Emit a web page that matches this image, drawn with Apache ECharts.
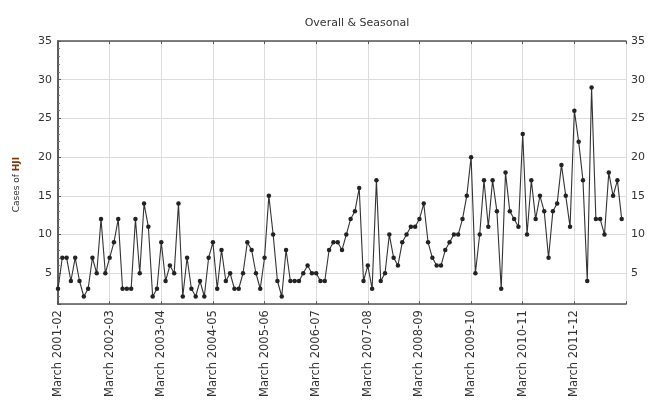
<!DOCTYPE html>
<html>
<head>
<meta charset="utf-8">
<script src="https://cdn.jsdelivr.net/npm/echarts@6/dist/echarts.min.js"></script>
<style>html,body{margin:0;padding:0;background:#fff}#c{width:651px;height:400px}</style>
</head>
<body>
<div id="c"></div>
<script>
// Monthly cases, March 2001 .. February 2012
const cases = [
  3,7,7,4,7,4,2,3,7,5,12,5,
  7,9,12,3,3,3,12,5,14,11,2,3,
  9,4,6,5,14,2,7,3,2,4,2,7,
  9,3,8,4,5,3,3,5,9,8,5,3,
  7,15,10,4,2,8,4,4,4,5,6,5,
  5,4,4,8,9,9,8,10,12,13,16,4,
  6,3,17,4,5,10,7,6,9,10,11,11,
  12,14,9,7,6,6,8,9,10,10,12,15,
  20,5,10,17,11,17,13,3,18,13,12,11,
  23,10,17,12,15,13,7,13,14,19,15,11,
  26,22,17,4,29,12,12,10,18,15,17,12
];
const yearLabels = ['March 2001-02','March 2002-03','March 2003-04','March 2004-05','March 2005-06','March 2006-07','March 2007-08','March 2008-09','March 2009-10','March 2010-11','March 2011-12'];
const monthIndex = cases.map((v, i) => i);

const fontFam = '"DejaVu Sans", Verdana, sans-serif';
const chart = echarts.init(document.getElementById('c'), null, {renderer: 'canvas'});
const frame = {show: true, lineStyle: {color: '#555', width: 1.5}};
const grid = {show: true, lineStyle: {color: '#dcdcdc', width: 1}};
chart.setOption({
  animation: false,
  backgroundColor: '#fff',
  title: {text: 'Overall & Seasonal', left: 352, top: 13, textAlign: 'center',
    textStyle: {fontSize: 11, fontWeight: 'normal', color: '#333', fontFamily: fontFam}},
  grid: {left: 58, right: 25, top: 41, bottom: 94},
  xAxis: [{
    type: 'value', min: 0, max: 132, interval: 12, position: 'bottom',
    axisLine: frame, axisTick: {show: true, inside: true, length: 3, lineStyle: {color: '#555'}},
    splitLine: grid,
    axisLabel: {rotate: 90, fontSize: 11.5, color: '#333', fontFamily: fontFam, margin: 6,
      formatter: v => yearLabels[v / 12] || ''}
  }, {
    type: 'value', min: 0, max: 132, interval: 12, position: 'top',
    axisLine: frame, axisTick: {show: true, inside: true, length: 3, lineStyle: {color: '#555'}},
    axisLabel: {show: false}, splitLine: {show: false}
  }],
  yAxis: [{
    type: 'value', min: 1, max: 35, splitNumber: 7, position: 'left',
    name: 'Cases of {b|HJI}', nameLocation: 'middle', nameGap: 37,
    nameTextStyle: {fontSize: 9, color: '#333', fontFamily: fontFam, padding: [0, 24, 0, 0],
      rich: {b: {fontSize: 9, fontWeight: 'bold', color: '#7a3a10', fontFamily: fontFam}}},
    axisLine: frame, axisTick: {show: true, inside: true, length: 3, lineStyle: {color: '#555'}},
    minorTick: {show: true, splitNumber: 5, length: 2, lineStyle: {color: '#777'}},
    splitLine: grid,
    axisLabel: {fontSize: 11, color: '#333', fontFamily: fontFam, margin: 6,
      formatter: v => (v % 5 === 0 ? String(v) : '')}
  }, {
    type: 'value', min: 1, max: 35, splitNumber: 7, position: 'right',
    axisLine: frame, axisTick: {show: true, inside: false, length: 3, lineStyle: {color: '#555'}},
    minorTick: {show: true, splitNumber: 5, length: 2, lineStyle: {color: '#777'}},
    splitLine: {show: false},
    axisLabel: {fontSize: 11, color: '#333', fontFamily: fontFam, margin: 5,
      formatter: v => (v % 5 === 0 ? String(v) : '')}
  }],
  series: [{
    type: 'line',
    data: cases.map((v, i) => [monthIndex[i], v]),
    symbol: 'circle', symbolSize: 4.5,
    lineStyle: {color: '#333', width: 1.1},
    itemStyle: {color: '#222'}
  }]
});
</script>
</body>
</html>
